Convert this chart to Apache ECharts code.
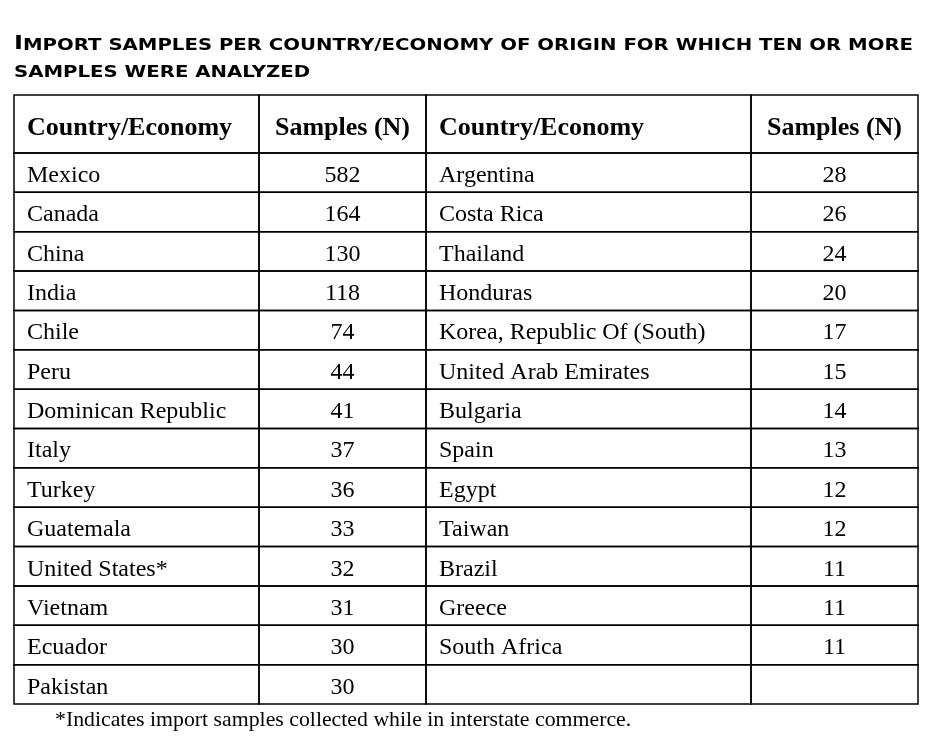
<!DOCTYPE html>
<html><head><meta charset="utf-8">
<script src="https://cdn.jsdelivr.net/npm/echarts@6/dist/echarts.min.js"></script>
<style>html,body{margin:0;padding:0;background:#fff}#c{width:935px;height:752px}</style>
</head><body><div id="c"></div>
<script>
// ---- data ----
const headers = ['Country/Economy', 'Samples (N)', 'Country/Economy', 'Samples (N)'];
const leftCountries = ['Mexico', 'Canada', 'China', 'India', 'Chile', 'Peru', 'Dominican Republic', 'Italy', 'Turkey', 'Guatemala', 'United States*', 'Vietnam', 'Ecuador', 'Pakistan'];
const leftSamples = [582, 164, 130, 118, 74, 44, 41, 37, 36, 33, 32, 31, 30, 30];
const rightCountries = ['Argentina', 'Costa Rica', 'Thailand', 'Honduras', 'Korea, Republic Of (South)', 'United Arab Emirates', 'Bulgaria', 'Spain', 'Egypt', 'Taiwan', 'Brazil', 'Greece', 'South Africa'];
const rightSamples = [28, 26, 24, 20, 17, 15, 14, 13, 12, 12, 11, 11, 11];
const titleLine1 = 'Import samples per country/economy of origin for which ten or more';
const titleLine2 = 'samples were analyzed';
const footnote = '*Indicates import samples collected while in interstate commerce.';

// ---- layout ----
const colEdges = [0, 245, 412, 737, 904];
const headerH = 58;
const nRows = leftCountries.length;
const rowH = 551 / nRows;
const tableW = colEdges[colEdges.length - 1];
const tableH = headerH + rowH * nRows;

const cells = [];
headers.forEach((h, c) => cells.push({ c, r: -1, text: h, header: true }));
for (let r = 0; r < nRows; r++) {
  cells.push({ c: 0, r, text: leftCountries[r] });
  cells.push({ c: 1, r, text: String(leftSamples[r]) });
  cells.push({ c: 2, r, text: rightCountries[r] !== undefined ? rightCountries[r] : '' });
  cells.push({ c: 3, r, text: rightSamples[r] !== undefined ? String(rightSamples[r]) : '' });
}

// small caps helper
const BIG = 19, SMALL = 15.5;
const bigFont = 'bold ' + BIG + 'px "DejaVu Sans"';
const smallFont = 'bold ' + SMALL + 'px "DejaVu Sans"';
function isUp(ch) { return ch !== ch.toLowerCase() && ch === ch.toUpperCase(); }
function smallCaps(str) {
  let out = '';
  let i = 0;
  while (i < str.length) {
    const u0 = isUp(str[i]);
    let j = i;
    while (j < str.length && isUp(str[j]) === u0) j++;
    out += (u0 ? '{b|' : '{s|') + str.slice(i, j).toUpperCase() + '}';
    i = j;
  }
  return out;
}
function measureSC(str) {
  const cv = document.createElement('canvas').getContext('2d');
  let w = 0;
  for (const ch of str) {
    cv.font = isUp(ch) ? bigFont : smallFont;
    w += cv.measureText(ch.toUpperCase()).width;
  }
  return w;
}
const titleScale = 901 / measureSC(titleLine1);
const rich = {
  b: { fontFamily: 'DejaVu Sans', fontWeight: 'bold', fontSize: BIG, fill: '#000', verticalAlign: 'bottom' },
  s: { fontFamily: 'DejaVu Sans', fontWeight: 'bold', fontSize: SMALL, fill: '#000', verticalAlign: 'bottom' }
};

const chart = echarts.init(document.getElementById('c'), null, { renderer: 'canvas' });
chart.setOption({
  backgroundColor: '#fff',
  animation: false,
  grid: { left: 14, top: 95, width: tableW, height: tableH, containLabel: false },
  xAxis: { type: 'value', min: 0, max: tableW, show: false },
  yAxis: { type: 'value', min: 0, max: tableH, inverse: true, show: false },
  graphic: [
    { type: 'text', x: 14, y: 35, scaleX: titleScale, style: { text: smallCaps(titleLine1), rich: rich, fill: '#000' } },
    { type: 'text', x: 14, y: 65, scaleX: titleScale, style: { text: smallCaps(titleLine2), rich: rich, fill: '#000' } },
    { type: 'text', x: 55, y: 709, style: { text: footnote, font: '21.8px "Liberation Serif"', fill: '#000' } }
  ],
  series: [{
    type: 'custom',
    coordinateSystem: 'cartesian2d',
    data: cells.map((d, i) => [d.c, d.r, i]),
    renderItem: function (params, api) {
      const d = cells[params.dataIndex];
      const x0 = colEdges[d.c], x1 = colEdges[d.c + 1];
      const y0 = d.r < 0 ? 0 : headerH + d.r * rowH;
      const y1 = d.r < 0 ? headerH : y0 + rowH;
      const p0 = api.coord([x0, y0]);
      const p1 = api.coord([x1, y1]);
      const left = Math.min(p0[0], p1[0]), top = Math.min(p0[1], p1[1]);
      const w = Math.abs(p1[0] - p0[0]), h = Math.abs(p1[1] - p0[1]);
      const isName = d.c % 2 === 0;
      return {
        type: 'group',
        children: [
          { type: 'rect', shape: { x: left, y: top, width: w, height: h },
            style: { fill: 'none', stroke: '#000', lineWidth: 1.5 } },
          { type: 'text',
            style: {
              text: d.text,
              x: isName ? left + 13 : left + w / 2,
              y: top + h / 2 + (d.header ? 4 : 3),
              align: isName ? 'left' : 'center',
              verticalAlign: 'middle',
              font: (d.header ? 'bold 26px' : '24px') + ' "Liberation Serif"',
              fill: '#000'
            } }
        ]
      };
    }
  }]
});
</script></body></html>
